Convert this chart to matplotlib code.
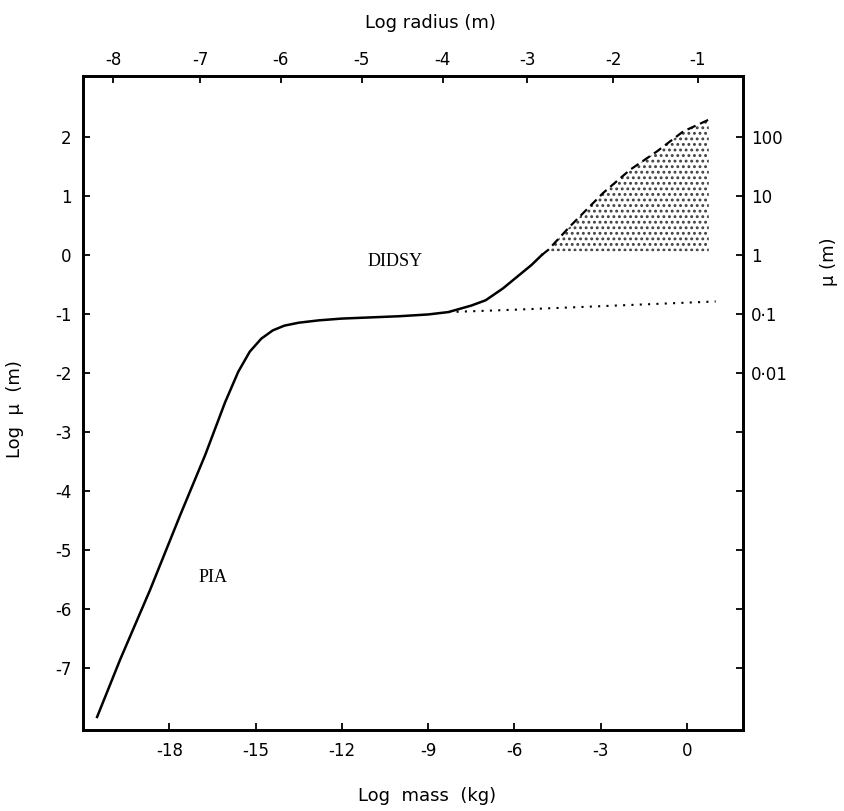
import matplotlib.pyplot as plt

# main curve (log mass in kg, log mu in m)
mass_solid = [-20.51, -19.71, -18.67, -17.62, -16.75, -16.06, -15.6, -15.2,
              -14.8, -14.4, -14.0, -13.5, -12.8, -12.0, -11.0, -10.0,
              -9.0, -8.3, -7.5, -7.0, -6.4, -5.8, -5.4, -5.04]
mu_solid = [-7.83, -6.86, -5.68, -4.41, -3.39, -2.50, -1.98, -1.64,
            -1.42, -1.28, -1.20, -1.15, -1.11, -1.08, -1.06, -1.04,
            -1.01, -0.97, -0.86, -0.77, -0.57, -0.33, -0.17, 0.0]

# dashed upper limit
mass_dash = [-5.04, -4.82, -4.07, -2.91, -1.98, -1.05, -0.13, 0.76]
mu_dash = [0.0, 0.085, 0.48, 1.05, 1.44, 1.75, 2.09, 2.29]
shade_floor = 0.06

# dotted branch
mass_dot = [-8.3, -6.0, -4.0, -2.0, 0.0, 1.0]
mu_dot = [-0.97, -0.93, -0.89, -0.85, -0.81, -0.79]

mass_ticks = [-18, -15, -12, -9, -6, -3, 0]
mu_ticks = [2, 1, 0, -1, -2, -3, -4, -5, -6, -7]
mu_right_labels = ["100", "10", "1", "0\u00b71", "0\u00b701", "", "", "", "", ""]
radius_labels = [-8, -7, -6, -5, -4, -3, -2, -1]
radius_tick_mass = [-19.95, -16.93, -14.12, -11.31, -8.49, -5.56, -2.57, 0.38]

plt.rcParams["font.family"] = "DejaVu Sans"
plt.rcParams["hatch.linewidth"] = 1.3

fig = plt.figure(figsize=(8.45, 8.11), dpi=100)
ax = fig.add_axes([0.0982, 0.0999, 0.7811, 0.8064])

ax.plot(mass_solid, mu_solid, color="black", lw=1.8, solid_joinstyle="round")
ax.plot(mass_dash, mu_dash, color="black", lw=1.6, linestyle=(0, (4, 2.2)))
ax.fill_between(mass_dash[1:], shade_floor, mu_dash[1:], facecolor="none",
                edgecolor="0.25", hatch="...", linewidth=0)
ax.plot(mass_dot, mu_dot, color="black", lw=1.5, linestyle=(0, (1, 3)))

ax.text(-10.15, -0.12, "DIDSY", family="Liberation Serif", fontsize=13,
        ha="center", va="center")
ax.text(-16.48, -5.46, "PIA", family="Liberation Serif", fontsize=13,
        ha="center", va="center")

xlim = (-21.0, 1.95)
ylim = (-8.05, 3.03)
ax.set_xlim(xlim)
ax.set_ylim(ylim)

ax.set_xticks(mass_ticks)
ax.set_xticklabels([str(t) for t in mass_ticks])
ax.set_yticks(mu_ticks)
ax.set_yticklabels([str(t) for t in mu_ticks])
ax.tick_params(axis="x", direction="in", length=5, width=1.3, labelsize=12, pad=9)
ax.tick_params(axis="y", direction="in", length=5, width=1.3, labelsize=12, pad=8)

ax.set_xlabel("Log  mass  (kg)", fontsize=13)
ax.xaxis.set_label_coords(0.521, -0.087)
ax.set_ylabel("Log  \u03bc  (m)", fontsize=13)
ax.yaxis.set_label_coords(-0.089, 0.49)

for s in ax.spines.values():
    s.set_linewidth(1.8)

# top axis: log radius
axt = ax.twiny()
axt.set_xlim(xlim)
axt.set_xticks(radius_tick_mass)
axt.set_xticklabels([str(r) for r in radius_labels])
axt.tick_params(axis="x", direction="in", length=5, width=1.3, labelsize=12, pad=5)
axt.set_xlabel("Log radius (m)", fontsize=13)
axt.xaxis.set_label_coords(0.526, 1.074)

# right axis: mu in metres
axr = ax.twinx()
axr.set_ylim(ylim)
axr.set_yticks(mu_ticks)
axr.set_yticklabels(mu_right_labels)
axr.tick_params(axis="y", direction="in", length=5, width=1.3, labelsize=12, pad=6)
axr.set_ylabel("\u03bc (m)", fontsize=13, rotation=90)
axr.yaxis.set_label_coords(1.117, 0.716)

for a in (axt, axr):
    for s in a.spines.values():
        s.set_linewidth(1.8)

fig.savefig("out.png", dpi=100)
